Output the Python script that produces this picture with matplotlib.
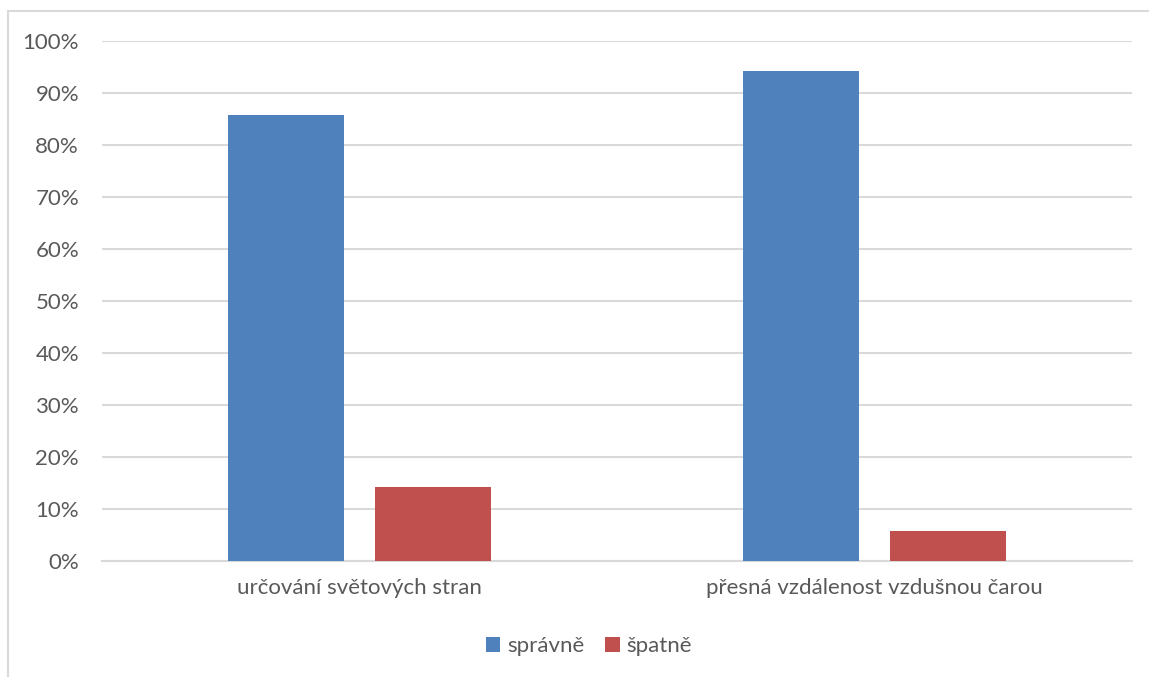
import matplotlib.pyplot as plt
import matplotlib.patches as mpatches
import numpy as np
from matplotlib.ticker import FuncFormatter

categories = ['určování světových stran', 'přesná vzdálenost vzdušnou čarou']
spravne = [85.7, 94.3]
spatne = [14.3, 5.7]
series_names = ['správně', 'špatně']

plt.rcParams['font.family'] = ['Lato', 'DejaVu Sans']
text_color = '#595959'
grid_color = '#d9d9d9'
fs = 16

fig = plt.figure(figsize=(11.49, 6.77), dpi=100)
ax = fig.add_axes([102 / 1149, 1 - 561 / 677, 1030 / 1149, 520 / 677])

ind = np.arange(len(categories))
width = 0.225
gap = 0.06
b1 = ax.bar(ind - (width + gap) / 2, spravne, width, color='#4f81bd', zorder=3)
b2 = ax.bar(ind + (width + gap) / 2, spatne, width, color='#c0504d', zorder=3)

ax.set_xlim(-0.5, len(categories) - 0.5)
ax.set_ylim(0, 100)
ax.set_yticks(np.arange(0, 101, 10))
ax.yaxis.set_major_formatter(FuncFormatter(lambda v, p: '%d%%' % v))
ax.set_xticks(ind)
ax.set_xticklabels(categories)
ax.tick_params(axis='both', length=0, labelsize=fs, labelcolor=text_color)
ax.tick_params(axis='y', pad=16.5)
ax.tick_params(axis='x', pad=12)
ax.yaxis.grid(True, color=grid_color, linewidth=1.5, zorder=0)
for s in ['top', 'right', 'left']:
    ax.spines[s].set_visible(False)
ax.spines['bottom'].set_color(grid_color)
ax.spines['bottom'].set_linewidth(1.5)

fig.legend((b1, b2), series_names, loc='center', bbox_to_anchor=(589 / 1149, 1 - 646 / 677),
           ncol=2, frameon=False, fontsize=fs, labelcolor=text_color,
           handlelength=0.65, handleheight=0.65, handletextpad=0.3, columnspacing=0.95)

border = mpatches.Rectangle((8 / 1149, -0.1), 1.2, 1 - 11 / 677 + 0.1, transform=fig.transFigure,
                            fill=False, edgecolor='#d9d9d9', linewidth=1.5)
fig.patches.append(border)

plt.savefig('out.png')
